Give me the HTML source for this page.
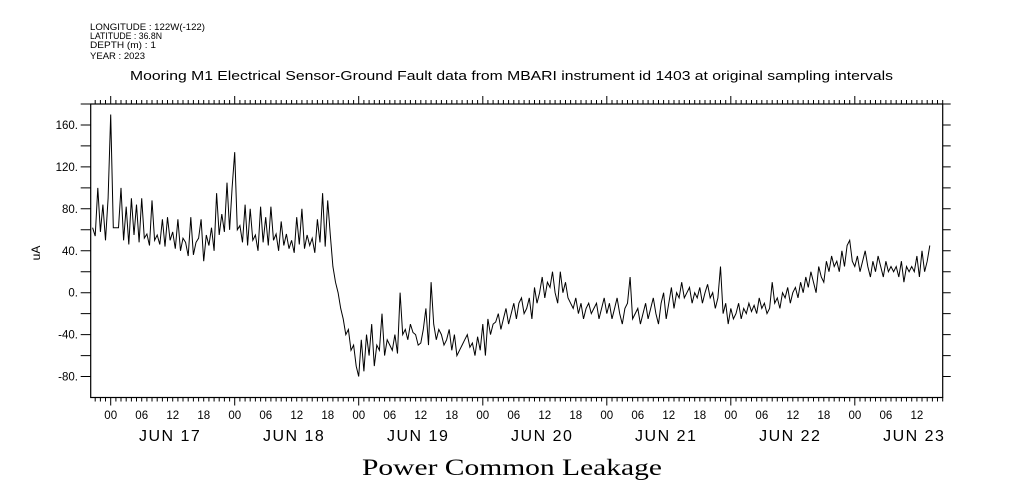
<!DOCTYPE html>
<html><head><meta charset="utf-8"><style>
html,body{margin:0;padding:0;background:#fff;}
svg{display:block;font-family:"Liberation Sans",sans-serif;}
</style></head><body>
<svg id="chart" width="1009" height="504" viewBox="0 0 1009 504" xmlns="http://www.w3.org/2000/svg">
<g font-size="9" fill="#000">
<text x="90" y="30" textLength="115" lengthAdjust="spacingAndGlyphs">LONGITUDE : 122W(-122)</text>
<text x="90" y="39" textLength="72" lengthAdjust="spacingAndGlyphs">LATITUDE : 36.8N</text>
<text x="90" y="48" textLength="66" lengthAdjust="spacingAndGlyphs">DEPTH (m) : 1</text>
<text x="90" y="59" textLength="55" lengthAdjust="spacingAndGlyphs">YEAR : 2023</text>
</g>
<text x="130" y="80" font-size="12.5" textLength="763" lengthAdjust="spacingAndGlyphs">Mooring M1 Electrical Sensor-Ground Fault data from MBARI instrument id 1403 at original sampling intervals</text>
<text x="362" y="475" font-size="23" textLength="300" lengthAdjust="spacingAndGlyphs" font-family="Liberation Serif, serif">Power Common Leakage</text>
<text x="0" y="0" font-size="12" text-anchor="middle" transform="translate(40,253) rotate(-90)">uA</text>
<g id="axes"></g>
<g id="plot"></g>
</svg>
<script>
// Time in hours from JUN 17 00:00, 30-minute sampling starting at t=-3.5
const startHour = -3.5;
const stepHours = 0.5;
const preValues = [62,54,100,58,84,50,90];
const jun17 = [170,62,62,62,100,50,82,46,90,55,84,48,90,52,56,45,88,50,55,46,70,44,72,50,58,42,70,40,52,48,35,72,36,48,52,70,30,55,45,62,40,95,55,75,58,105,60,100];
const jun18 = [134,60,64,48,84,45,80,50,55,40,82,48,72,45,82,50,56,40,68,45,56,42,50,38,72,46,80,42,55,45,52,38,70,48,95,44,88,55,25,10,0,-15,-25,-40,-35,-55,-50,-70];
const jun19 = [-80,-45,-75,-40,-60,-30,-70,-50,-55,-20,-60,-45,-50,-55,-40,-58,0,-40,-35,-45,-30,-38,-40,-50,-48,-35,-15,-50,10,-30,-45,-35,-40,-50,-45,-35,-55,-40,-60,-55,-50,-45,-40,-52,-48,-60,-42,-55];
const jun20 = [-30,-60,-25,-40,-30,-28,-20,-35,-25,-15,-30,-20,-10,-25,-10,-5,-20,-15,-5,-25,5,-10,0,15,-5,10,5,20,0,-10,20,0,10,-5,-10,-15,-5,-20,-10,-25,-15,-10,-20,-15,-10,-25,-15,-5];
const jun21 = [-20,-10,-25,-15,-5,-20,-30,-15,-10,15,-25,-20,-15,-30,-20,-10,-25,-15,-5,-20,-30,-10,0,-25,-10,5,-15,0,-5,10,-5,0,5,-10,0,-5,5,-10,0,8,-5,0,-15,-5,25,-20,-10,-30];
const jun22 = [-15,-25,-20,-10,-25,-15,-20,-10,-18,-12,-20,-5,-15,-10,-20,-15,10,-10,-5,-15,0,-5,5,-10,0,5,-5,10,0,15,5,20,10,0,25,15,10,30,20,35,25,30,20,40,25,45,50,30];
const jun23 = [25,35,20,30,40,25,15,30,20,35,25,15,30,20,25,20,25,15,30,10,25,20,25,20,35,15,40,20,30,45];
const yTicks = [-80,-40,0,40,80,120,160];
const yTickLabels = ["-80.","-40.","0.","40.","80.","120.","160."];
const hourLabels = ["00","06","12","18"];
const dayLabels = ["JUN 17","JUN 18","JUN 19","JUN 20","JUN 21","JUN 22","JUN 23"];

const NS="http://www.w3.org/2000/svg";
const L=90.7,R=942.7,T=104,B=397.5;
const tMin=-3.87,tMax=161.0,yMin=-100,yMax=180;
function xs(t){return L+(t-tMin)/(tMax-tMin)*(R-L);}
function ys(v){return B-(v-yMin)/(yMax-yMin)*(B-T);}
function mk(tag,attrs,parent){const e=document.createElementNS(NS,tag);for(const k in attrs)e.setAttribute(k,attrs[k]);parent.appendChild(e);return e;}
const axes=document.getElementById('axes'),plot=document.getElementById('plot');

const frame=mk('rect',{x:L,y:T,width:R-L,height:B-T,fill:'none',stroke:'#000','stroke-width':1.2},axes);



let d='';
for(let h=Math.ceil(tMin);h<=Math.floor(tMax);h++){
  const x=xs(h).toFixed(1);
  const len=(h%24===0)?8:4;
  d+=`M${x} ${B}v${len}M${x} ${T}v${-len}`;
}
const xt=mk('path',{d:d,stroke:'#000','stroke-width':1,fill:'none'},axes);



let dy='';
for(let v=-80;v<=180;v+=20){
  const y=ys(v).toFixed(1);
  dy+=`M${L} ${y}h-10M${R} ${y}h8`;
}
const ytk=mk('path',{d:dy,stroke:'#000','stroke-width':1,fill:'none'},axes);



yTicks.forEach((v,i)=>{
  const t=mk('text',{x:78,y:ys(v)+4,'font-size':11.5,'text-anchor':'end'},axes);
  t.textContent=yTickLabels[i];
  
  
});
for(let day=0;day<7;day++){
  hourLabels.forEach((hl,j)=>{
    const t=day*24+j*6;
    if(t>tMax)return;
    const e=mk('text',{x:xs(t),y:419,'font-size':11.5,'text-anchor':'middle'},axes);
    e.textContent=hl;
    
    
  });
  const e=mk('text',{x:xs(day*24+11.5),y:441,'font-size':16,'text-anchor':'middle','letter-spacing':1.5},axes);
  e.textContent=dayLabels[day];
  
  
}

const series=[].concat(preValues,jun17,jun18,jun19,jun20,jun21,jun22,jun23);
let p='';
series.forEach((v,i)=>{const t=startHour+i*stepHours;p+=(i?'L':'M')+xs(t).toFixed(1)+' '+ys(v).toFixed(1);});
const line=mk('path',{d:p,stroke:'#000','stroke-width':1,fill:'none','stroke-linejoin':'miter'},plot);


</script>
</body></html>
